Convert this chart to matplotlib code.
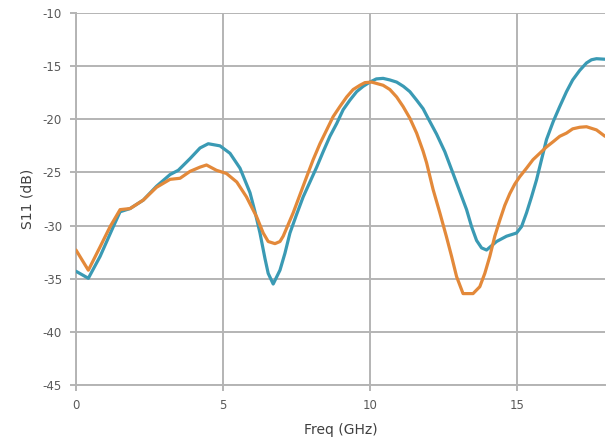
import matplotlib
matplotlib.use("Agg")
import matplotlib.pyplot as plt

plt.rcParams["axes.unicode_minus"] = False

# Measured return loss, two antenna variants
freq_a = [0.0, 0.42, 0.82, 1.27, 1.5, 1.84, 2.29, 2.74, 3.2, 3.48, 3.88, 4.22, 4.5, 4.9,
          5.24, 5.58, 5.92, 6.09, 6.26, 6.43, 6.54, 6.71, 6.94, 7.11, 7.28, 7.5, 7.73,
          7.96, 8.19, 8.41, 8.64, 8.87, 9.09, 9.32, 9.55, 9.77, 10.0, 10.22, 10.45, 10.68,
          10.91, 11.14, 11.36, 11.59, 11.81, 11.98, 12.27, 12.55, 12.83, 13.06, 13.29,
          13.46, 13.63, 13.8, 13.97, 14.31, 14.65, 14.99, 15.16, 15.33, 15.5, 15.67,
          15.84, 16.01, 16.24, 16.46, 16.69, 16.9, 17.14, 17.37, 17.54, 17.71, 18.0]
s11_a = [-34.3, -34.96, -32.9, -30.1, -28.7, -28.4, -27.6, -26.3, -25.2, -24.8, -23.7,
         -22.7, -22.3, -22.5, -23.2, -24.6, -26.9, -28.7, -30.7, -33.1, -34.5, -35.5,
         -34.2, -32.6, -30.7, -29.0, -27.3, -25.9, -24.5, -23.05, -21.6, -20.4, -19.1,
         -18.2, -17.4, -16.9, -16.5, -16.2, -16.15, -16.3, -16.5, -16.9, -17.4, -18.2,
         -19.0, -19.9, -21.4, -23.05, -25.1, -26.8, -28.5, -30.1, -31.4, -32.1, -32.3,
         -31.5, -31.0, -30.7, -30.1, -28.8, -27.3, -25.7, -23.8, -21.9, -20.2, -18.8,
         -17.4, -16.3, -15.4, -14.7, -14.4, -14.3, -14.35]

freq_b = [0.0, 0.42, 0.82, 1.16, 1.5, 1.84, 2.29, 2.74, 3.2, 3.54, 3.88, 4.22, 4.44, 4.78,
          5.12, 5.47, 5.8, 6.15, 6.37, 6.54, 6.77, 6.94, 7.05, 7.22, 7.39, 7.62, 7.85,
          8.07, 8.3, 8.53, 8.75, 8.98, 9.21, 9.43, 9.66, 9.83, 10.06, 10.45, 10.68, 10.91,
          11.13, 11.36, 11.59, 11.81, 11.93, 12.15, 12.38, 12.6, 12.78, 12.95, 13.17,
          13.51, 13.74, 13.91, 14.08, 14.25, 14.42, 14.59, 14.76, 14.93, 15.1, 15.33,
          15.55, 15.78, 16.01, 16.24, 16.46, 16.69, 16.9, 17.14, 17.37, 17.71, 18.0]
s11_b = [-32.3, -34.2, -32.0, -30.1, -28.5, -28.4, -27.6, -26.4, -25.65, -25.55, -24.9,
         -24.5, -24.3, -24.8, -25.1, -25.9, -27.3, -29.2, -30.7, -31.5, -31.7, -31.5,
         -31.0, -29.9, -28.8, -27.1, -25.4, -23.8, -22.3, -21.0, -19.75, -18.8, -17.9,
         -17.2, -16.8, -16.55, -16.5, -16.8, -17.2, -17.9, -18.8, -19.9, -21.3, -23.0,
         -24.1, -26.6, -28.8, -31.0, -32.9, -34.8, -36.4, -36.4, -35.75, -34.5, -32.9,
         -31.0, -29.5, -28.1, -27.0, -26.1, -25.4, -24.6, -23.8, -23.2, -22.6, -22.1,
         -21.6, -21.3, -20.9, -20.75, -20.7, -21.0, -21.6]

x_ticks = [0, 5, 10, 15]
y_ticks = [-45, -40, -35, -30, -25, -20, -15, -10]

grid_col = "#b4b4b4"
text_col = "#595959"

fig = plt.figure(figsize=(6.07, 4.44), dpi=100)
ax = fig.add_axes([76 / 607, 59 / 444, 529 / 607, 372 / 444])

ax.plot(freq_a, s11_a, color="#3a9ab4", lw=2.3, solid_joinstyle="round",
        solid_capstyle="round", zorder=3)
ax.plot(freq_b, s11_b, color="#e3893a", lw=2.3, solid_joinstyle="round",
        solid_capstyle="round", zorder=4)

ax.set_xlim(0, 18)
ax.set_ylim(-45, -10)
ax.set_xticks(x_ticks)
ax.set_yticks(y_ticks)
ax.grid(True, color=grid_col, lw=1.4)
ax.set_axisbelow(True)

for side in ("top", "right"):
    ax.spines[side].set_visible(False)
for side in ("left", "bottom"):
    ax.spines[side].set_color(grid_col)
    ax.spines[side].set_linewidth(1.4)

ax.tick_params(axis="both", colors=grid_col, length=4, width=1.4, labelcolor=text_col,
               labelsize=8.5, pad=6)
ax.set_xlabel("Freq (GHz)", color="#404040", fontsize=10, labelpad=8)
ax.set_ylabel("S11 (dB)", color="#404040", fontsize=10, labelpad=6)

fig.savefig("out.png", dpi=100)
